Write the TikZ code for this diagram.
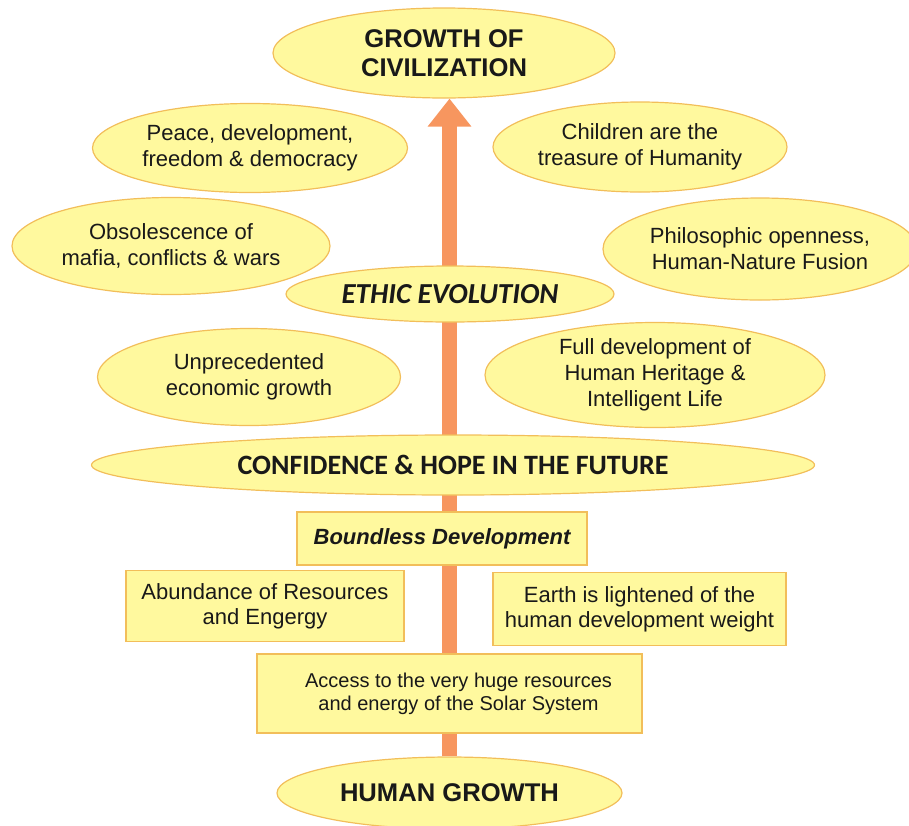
\documentclass[tikz,border=0pt]{standalone}
\usepackage{fontspec}
\setmainfont{Liberation Sans}
\newfontfamily\calib{Carlito}
\usetikzlibrary{shapes.geometric,arrows.meta,backgrounds}
\definecolor{boxfill}{RGB}{255,249,158}
\definecolor{boxline}{RGB}{242,190,90}
\definecolor{arrowc}{RGB}{247,150,95}
\definecolor{txt}{RGB}{25,25,25}
\tikzset{
  oval/.style={ellipse, draw=boxline, fill=boxfill, line width=1.2pt, inner sep=0pt, align=center, text=txt,
    font=\fontsize{22}{26}\selectfont},
  rbox/.style={rectangle, draw=boxline, fill=boxfill, line width=1.2pt, inner sep=0pt, align=center, text=txt,
    font=\fontsize{22}{25}\selectfont},
  bigtitle/.style={font=\fontsize{25.6}{28.5}\selectfont\bfseries},
  caltitle/.style={font=\calib\fontsize{28}{30}\selectfont\bfseries},
  bigarrow/.style={draw=arrowc, line width=15pt, -{Triangle[width=42pt,length=28pt]}, arrowc},
}
\begin{document}
\begin{tikzpicture}[x=1pt,y=-1pt]
\useasboundingbox (0,0) rectangle (909,825);
\node[oval, bigtitle, minimum width=342, minimum height=90] (top) at (444,53) {GROWTH OF\\CIVILIZATION};
\node[oval, minimum width=315, minimum height=89] (peace) at (250,148) {Peace, development,\\freedom \& democracy};
\node[oval, minimum width=294, minimum height=90] (child) at (640,147) {Children are the\\treasure of Humanity};
\node[oval, minimum width=318, minimum height=97] (obsol) at (171,246) {Obsolescence of\\mafia, conflicts \& wars};
\node[oval, minimum width=314, minimum height=102] (philo) at (760,249) {Philosophic openness,\\Human-Nature Fusion};
\node[oval, caltitle, font=\calib\fontsize{29}{30}\selectfont\bfseries, minimum width=328, minimum height=56] (ethic) at (450,294) {\itshape ETHIC EVOLUTION};
\node[oval, minimum width=303, minimum height=97] (unprec) at (249,377) {Unprecedented\\economic growth};
\node[oval, minimum width=340, minimum height=105] (full) at (655,375) {Full development of\\Human Heritage \&\\Intelligent Life};
\node[oval, caltitle, minimum width=723, minimum height=60] (conf) at (453,465) {CONFIDENCE \& HOPE IN THE FUTURE};
\node[rbox, font=\fontsize{22}{25}\selectfont\bfseries\itshape, minimum width=290, minimum height=53] (bound) at (442,538.5) {Boundless Development};
\node[rbox, minimum width=278, minimum height=71] (abund) at (265,606) {Abundance of Resources\\and Engergy};
\node[rbox, minimum width=293, minimum height=73] (earth) at (639.5,609) {Earth is lightened of the\\human development weight};
\node[rbox, font=\fontsize{20}{23}\selectfont, minimum width=385, minimum height=79] (access) at (449.5,693.5) {\hspace*{18pt}Access to the very huge resources\\\hspace*{18pt}and energy of the Solar System};
\node[oval, bigtitle, minimum width=345, minimum height=72] (hg) at (449.5,793) {HUMAN GROWTH};
\begin{scope}[on background layer]
\draw[bigarrow] (hg.north) -- (hg.north |- top.south);
\end{scope}
\end{tikzpicture}
\end{document}
